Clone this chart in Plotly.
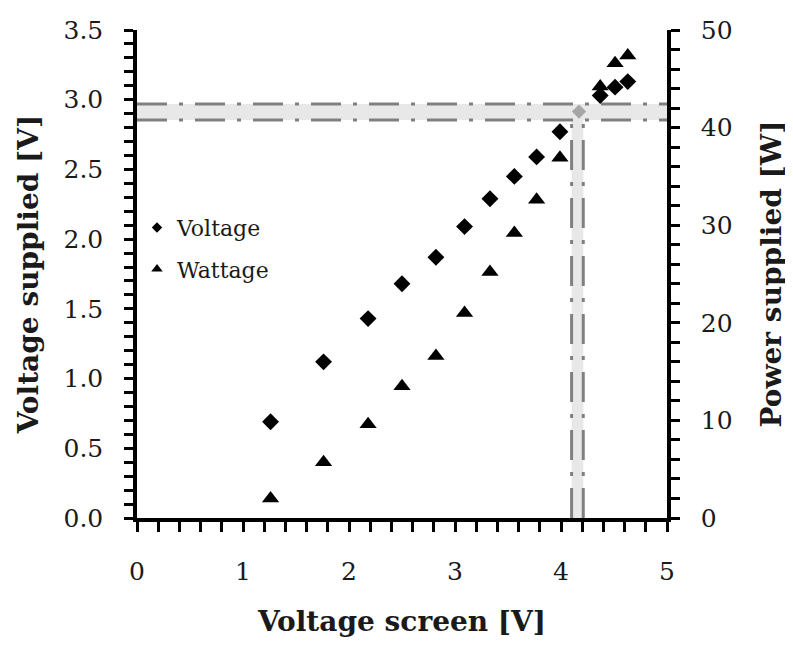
import plotly.graph_objects as go

# ---- data ----
voltage_screen = [1.26, 1.76, 2.18, 2.50, 2.82, 3.09, 3.33, 3.56, 3.77, 3.99, 4.37, 4.51, 4.63]
voltage_supplied = [0.69, 1.12, 1.43, 1.68, 1.87, 2.09, 2.29, 2.45, 2.59, 2.77, 3.03, 3.09, 3.13]
wattage_supplied = [2.0, 5.7, 9.6, 13.5, 16.6, 21.0, 25.2, 29.2, 32.6, 36.9, 44.2, 46.6, 47.4]

# operating point and its uncertainty band
op_x = [4.17]
op_y = [2.915]
band_x = [4.10, 4.21]      # screen voltage bounds
band_y = [2.855, 2.97]     # supplied voltage bounds
x_range = [0, 5]
y_range = [0, 3.5]
y2_range = [0, 50]

FONT = "DejaVu Serif"
LINE_GRAY = "#808080"
BAND_GRAY = "#e8e8e8"
DASH = "30px,12px,4px,12px"

fig = go.Figure()

# shaded bands
fig.add_shape(type="rect", xref="x", yref="y", x0=x_range[0], x1=x_range[1],
              y0=band_y[0], y1=band_y[1], fillcolor=BAND_GRAY, line_width=0, layer="below")
fig.add_shape(type="rect", xref="x", yref="y", x0=band_x[0], x1=band_x[1],
              y0=y_range[0], y1=band_y[1], fillcolor=BAND_GRAY, line_width=0, layer="below")

# dash-dot guide lines
for yv in band_y:
    fig.add_trace(go.Scatter(x=x_range, y=[yv, yv], mode="lines", showlegend=False,
                             line=dict(color=LINE_GRAY, width=3, dash=DASH), hoverinfo="skip"))
for xv in band_x:
    fig.add_trace(go.Scatter(x=[xv, xv], y=[y_range[0], band_y[0]], mode="lines", showlegend=False,
                             line=dict(color=LINE_GRAY, width=3, dash=DASH), hoverinfo="skip"))

# operating point
fig.add_trace(go.Scatter(x=op_x, y=op_y, mode="markers", showlegend=False,
                         marker=dict(symbol="diamond", size=11, color="#a6a6a6")))

# data series
fig.add_trace(go.Scatter(x=voltage_screen, y=voltage_supplied, mode="markers", name="Voltage",
                         showlegend=False, marker=dict(symbol="diamond", size=13, color="black")))
fig.add_trace(go.Scatter(x=voltage_screen, y=wattage_supplied, mode="markers", name="Wattage",
                         yaxis="y2", showlegend=False,
                         marker=dict(symbol="triangle-up", size=15, color="black")))

# legend entries (smaller markers as in the reference)
fig.add_trace(go.Scatter(x=[None], y=[None], mode="markers", name="Voltage", legendgroup="a",
                         marker=dict(symbol="diamond", size=8, color="black")))
fig.add_trace(go.Scatter(x=[None], y=[None], mode="markers", name="Wattage", legendgroup="b",
                         marker=dict(symbol="triangle-up", size=10, color="black")))

tickfont = dict(family=FONT, size=25, color="#1a1a1a")
titlefont = dict(family=FONT, size=28, color="#1a1a1a", weight="bold")

fig.update_layout(
    width=785, height=637,
    margin=dict(l=129, r=126, t=22, b=127),
    paper_bgcolor="white", plot_bgcolor="white",
    font=dict(family=FONT, color="#1a1a1a"),
    xaxis=dict(range=x_range, dtick=1, tick0=0, showgrid=False, zeroline=False,
               showline=True, linecolor="black", linewidth=3.5,
               ticks="outside", ticklen=10, tickwidth=3, tickcolor="black",
               minor=dict(dtick=0.2, ticks="outside", ticklen=10, tickwidth=3, tickcolor="black"),
               tickfont=tickfont, ticklabelstandoff=18,
               title=dict(text="Voltage screen [V]", font=titlefont, standoff=28),
               automargin=False),
    yaxis=dict(range=y_range, dtick=0.5, tick0=0, tickformat=".1f", showgrid=False, zeroline=False,
               showline=True, linecolor="black", linewidth=3.5,
               ticks="outside", ticklen=9, tickwidth=3, tickcolor="black",
               minor=dict(dtick=0.1, ticks="outside", ticklen=9, tickwidth=3, tickcolor="black"),
               tickfont=tickfont, ticklabelstandoff=16,
               title=dict(text="Voltage supplied [V]", font=titlefont, standoff=18),
               automargin=False),
    yaxis2=dict(range=y2_range, dtick=10, tick0=0, overlaying="y", side="right",
                showgrid=False, zeroline=False,
                showline=True, linecolor="black", linewidth=3.5,
                ticks="outside", ticklen=9, tickwidth=3, tickcolor="black",
                minor=dict(dtick=2, ticks="outside", ticklen=9, tickwidth=3, tickcolor="black"),
                tickfont=tickfont, ticklabelstandoff=16,
                title=dict(text="Power supplied [W]", font=titlefont, standoff=31),
                automargin=False),
    legend=dict(x=0.0, y=0.638, xanchor="left", yanchor="top",
                font=dict(family=FONT, size=22, color="#1a1a1a"),
                bgcolor="rgba(0,0,0,0)", traceorder="grouped", tracegroupgap=10,
                itemwidth=30),
)

fig.write_html("out.html")
